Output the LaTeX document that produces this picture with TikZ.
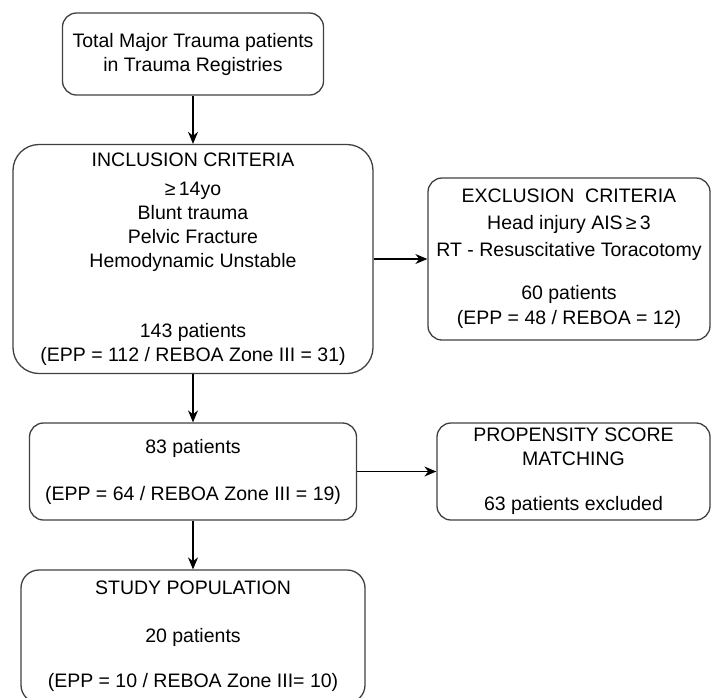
\documentclass[tikz,border=0pt]{standalone}
\usepackage{fontspec}
\setmainfont{Liberation Sans}
\usetikzlibrary{arrows.meta}

\begin{document}
\begin{tikzpicture}[x=1pt,y=-1pt,
  box/.style={draw=black!75,line width=1.3pt,rounded corners=14pt,align=center,
    inner sep=2pt,font=\fontsize{19.5}{24}\selectfont},
  flow/.style={-{Stealth[length=12pt,width=10pt]},line width=1.2pt}]
  \useasboundingbox (0,0) rectangle (712,697);
  % Registres
  \node[box,minimum width=261pt,minimum height=82pt] (total) at (193,54)
    {Total Major Trauma patients\\in Trauma Registries};
  % Inclusion
  \node[box,rounded corners=26pt,minimum width=360pt,minimum height=229pt] (incl) at (193,259)
    {INCLUSION CRITERIA\\[5pt]≥\,14yo\\Blunt trauma\\Pelvic Fracture\\Hemodynamic Unstable\\[46pt]
     143 patients\\(EPP = 112 / REBOA Zone III = 31)};
  % Exclusion
  \node[box,minimum width=282pt,minimum height=162pt] (excl) at (569,259)
    {EXCLUSION~~CRITERIA\\[3pt]Head injury AIS\,≥\,3\\[3pt]RT - Resuscitative Toracotomy\\[19pt]
     60 patients\\[1pt](EPP = 48 / REBOA = 12)};
  % Apres exclusion
  \node[box,minimum width=327pt,minimum height=97pt] (remain) at (193,471.5)
    {83 patients\\[23pt](EPP = 64 / REBOA Zone III = 19)};
  % Score de propension
  \node[box,minimum width=273pt,minimum height=97pt] (psm) at (573.5,471.5)
    {PROPENSITY SCORE\\MATCHING\\[21pt]63 patients excluded};
  % Population
  \node[box,rounded corners=18pt,minimum width=344pt,minimum height=133pt] (study) at (193,636.5)
    {STUDY POPULATION\\[24pt]20 patients\\[21pt](EPP = 10 / REBOA Zone III= 10)};
  % Fleches
  \draw[flow] (total) -- (incl);
  \draw[flow] (incl) -- (excl);
  \draw[flow] (incl) -- (remain);
  \draw[flow] (remain) -- (psm);
  \draw[flow] (remain) -- (study);
\end{tikzpicture}
\end{document}
